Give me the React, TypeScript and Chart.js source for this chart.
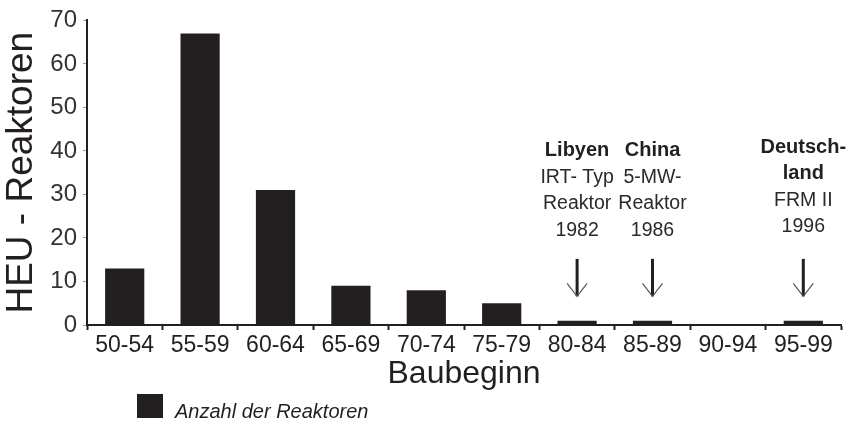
import React, { useEffect, useRef } from "react";
import { Chart, registerables } from "chart.js";

Chart.register(...registerables);

const categories = ["50-54", "55-59", "60-64", "65-69", "70-74", "75-79", "80-84", "85-89", "90-94", "95-99"];
const reactorCounts = [13, 67, 31, 9, 8, 5, 1, 1, 0, 1];
const yTicks = [0, 10, 20, 30, 40, 50, 60, 70];
const seriesLabel = "Anzahl der Reaktoren";
const yTitle = "HEU - Reaktoren";
const xTitle = "Baubeginn";
const annotationCategories = ["80-84", "85-89", "95-99"];
const annotationHeads = [["Libyen"], ["China"], ["Deutsch-", "land"]];
const annotationDetails = [
  ["IRT- Typ", "Reaktor", "1982"],
  ["5-MW-", "Reaktor", "1986"],
  ["FRM II", "1996"],
];

const FAMILY = '"Liberation Sans", Arial, Helvetica, sans-serif';
const INK = "#231f20";

const overlayPlugin = {
  id: "overlay",
  afterDraw(chart: any) {
    const ctx = chart.ctx as CanvasRenderingContext2D;
    const xs = chart.scales.x;
    const ys = chart.scales.y;
    ctx.save();
    annotationCategories.forEach((cat, i) => {
      const idx = categories.indexOf(cat);
      const cx = xs.getPixelForValue(idx);
      const heads = annotationHeads[i];
      const details = annotationDetails[i];
      const startVal = heads.length > 1 ? 40.8 : 40;
      let yy = ys.getPixelForValue(startVal);
      const lineH = 26.5;
      ctx.textAlign = "center";
      ctx.textBaseline = "middle";
      heads.forEach((t) => {
        ctx.font = `bold 20px ${FAMILY}`;
        ctx.fillStyle = INK;
        ctx.fillText(t, cx, yy);
        yy += lineH;
      });
      details.forEach((t) => {
        ctx.font = `19.5px ${FAMILY}`;
        ctx.fillStyle = "#2a2a2a";
        ctx.fillText(t, cx, yy);
        yy += lineH;
      });
      const top = ys.getPixelForValue(15.2);
      const bottom = ys.getPixelForValue(6.6);
      ctx.strokeStyle = INK;
      ctx.lineWidth = 3;
      ctx.beginPath();
      ctx.moveTo(cx, top);
      ctx.lineTo(cx, bottom);
      ctx.stroke();
      ctx.strokeStyle = "#555";
      ctx.lineWidth = 1.2;
      ctx.beginPath();
      ctx.moveTo(cx - 10, bottom - 13);
      ctx.lineTo(cx, bottom);
      ctx.lineTo(cx + 10, bottom - 13);
      ctx.stroke();
    });
    ctx.fillStyle = INK;
    ctx.fillRect(137, 394, 26, 24);
    ctx.font = `italic 20px ${FAMILY}`;
    ctx.textAlign = "left";
    ctx.textBaseline = "alphabetic";
    ctx.fillText(seriesLabel, 175, 418);
    ctx.restore();
  },
};

export default function App() {
  const canvasRef = useRef<HTMLCanvasElement | null>(null);

  useEffect(() => {
    const canvas = canvasRef.current;
    if (!canvas) return;
    const chart = new Chart(canvas, {
      type: "bar",
      data: {
        labels: categories,
        datasets: [
          {
            label: seriesLabel,
            data: reactorCounts,
            backgroundColor: INK,
            borderWidth: 0,
            barPercentage: 0.52,
            categoryPercentage: 1,
          },
        ],
      },
      options: {
        responsive: false,
        animation: false,
        layout: { padding: { top: 17, right: 9, bottom: 0, left: 0 } },
        plugins: {
          legend: { display: false },
          tooltip: { enabled: false },
          title: { display: false },
        },
        scales: {
          x: {
            type: "category",
            offset: true,
            grid: {
              offset: true,
              drawOnChartArea: false,
              drawTicks: true,
              tickLength: 5,
              tickWidth: 2,
              tickColor: INK,
            },
            border: { color: INK, width: 2 },
            ticks: {
              color: INK,
              font: { family: FAMILY, size: 23 },
              padding: 2,
              maxRotation: 0,
              autoSkip: false,
            },
            title: {
              display: true,
              text: xTitle,
              color: INK,
              font: { family: FAMILY, size: 32 },
              padding: { top: 0, bottom: 32 },
            },
            afterFit: (s: any) => {
              s.height = 100;
            },
          },
          y: {
            min: 0,
            max: 70,
            afterBuildTicks: (s: any) => {
              s.ticks = yTicks.map((v) => ({ value: v }));
            },
            ticks: {
              color: "#333",
              font: { family: FAMILY, size: 24 },
              padding: 6,
            },
            grid: {
              drawOnChartArea: false,
              tickLength: 4,
              tickColor: "#999",
              tickWidth: 1,
            },
            border: { color: INK, width: 2 },
            title: {
              display: true,
              text: yTitle,
              color: INK,
              font: { family: FAMILY, size: 37 },
              padding: 0,
            },
            afterFit: (s: any) => {
              s.width = 87;
            },
          },
        },
      },
      plugins: [overlayPlugin],
    });
    return () => chart.destroy();
  }, []);

  return (
    <div style={{ position: "fixed", left: 0, top: 0, width: 850, height: 425, background: "#fff" }}>
      <canvas ref={canvasRef} width={850} height={425} style={{ display: "block" }} />
    </div>
  );
}
